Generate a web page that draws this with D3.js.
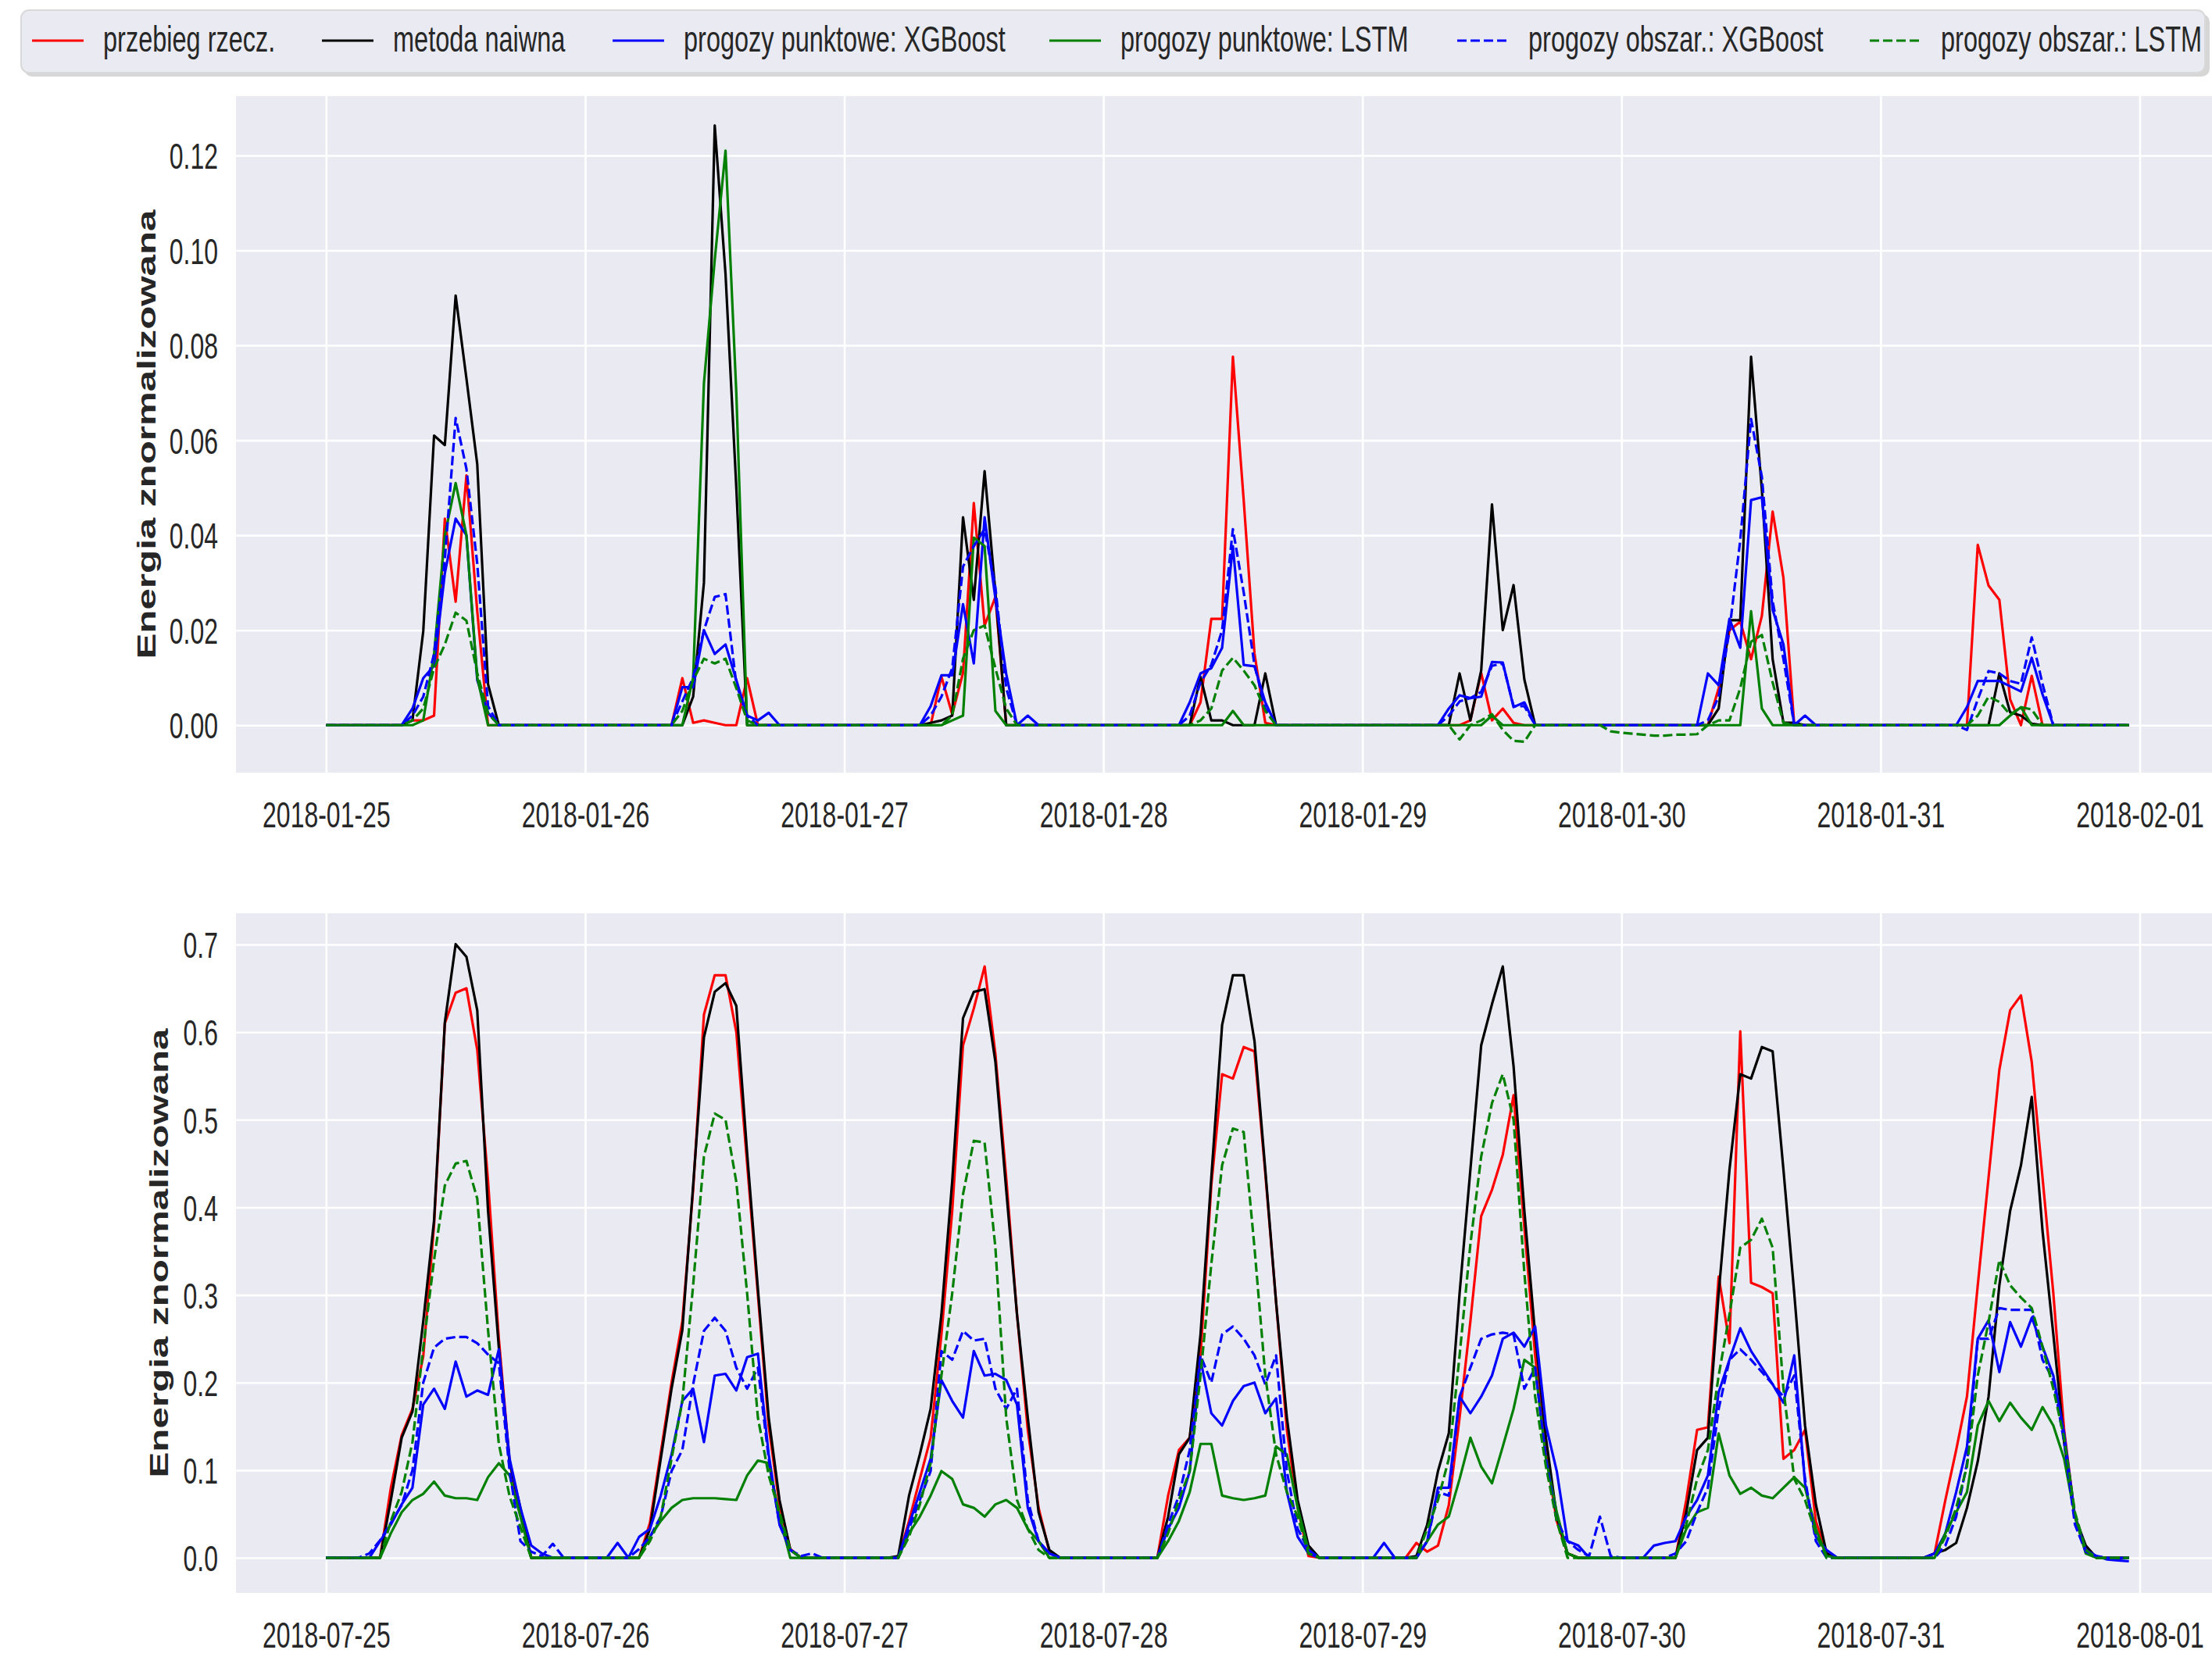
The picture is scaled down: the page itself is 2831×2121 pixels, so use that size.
<!DOCTYPE html>
<html>
<head>
<meta charset="utf-8">
<script src="https://cdn.jsdelivr.net/npm/d3@7"></script>
<style>
  body { margin: 0; background: #fff; }
</style>
</head>
<body>
<svg width="2831" height="2121"></svg>
<script>
// legend / series
const seriesNames = ['przebieg rzecz.', 'metoda naiwna', 'progozy punktowe: XGBoost',
  'progozy punktowe: LSTM', 'progozy obszar.: XGBoost', 'progozy obszar.: LSTM'];
const seriesColors = ['#ff0000', '#000000', '#0000ff', '#008000', '#0000ff', '#008000'];
const seriesDashed = [false, false, false, false, true, true];

// winter week, hourly values from 06:00 to 18:00 of every day (night = 0)
const winterStart = Date.UTC(2018, 0, 25);
const winterFirstHour = 6;
const winterReal = [
  [0, 0, 0.001, 0.001, 0.002, 0.0435, 0.026, 0.0526, 0.024, 0, 0, 0, 0],
  [0, 0, 0, 0.0099, 0.0005, 0.001, 0.0005, 0, 0, 0.0099, 0, 0, 0],
  [0, 0, 0, 0.0102, 0.0023, 0.011, 0.0468, 0.021, 0.027, 0, 0, 0, 0],
  [0, 0, 0, 0.0048, 0.0224, 0.0224, 0.0776, 0.0474, 0.0151, 0.0005, 0, 0, 0],
  [0, 0, 0, 0, 0.001, 0.011, 0.001, 0.0035, 0.0005, 0, 0, 0, 0],
  [0, 0, 0, 0.0078, 0.02, 0.0218, 0.0139, 0.023, 0.045, 0.031, 0, 0, 0],
  [0, 0, 0, 0.038, 0.0294, 0.0264, 0.0054, 0, 0.0104, 0, 0, 0, 0]
];
const winterNaive = [
  [0, 0, 0.001, 0.0198, 0.061, 0.059, 0.0905, 0.073, 0.055, 0.0086, 0, 0, 0],
  [0, 0, 0, 0, 0.006, 0.03, 0.1263, 0.095, 0.05, 0, 0, 0, 0],
  [0, 0, 0.0005, 0.001, 0.002, 0.0438, 0.0264, 0.0535, 0.028, 0, 0, 0, 0],
  [0, 0, 0, 0.0102, 0.001, 0.001, 0, 0, 0, 0.0109, 0, 0, 0],
  [0, 0, 0, 0.0109, 0.001, 0.0115, 0.0465, 0.02, 0.0295, 0.0096, 0, 0, 0],
  [0, 0, 0, 0.0035, 0.0221, 0.0221, 0.0776, 0.0496, 0.0139, 0.0005, 0.0005, 0, 0],
  [0, 0, 0, 0, 0, 0.0109, 0.0027, 0.002, 0.0003, 0, 0, 0, 0]
];
const winterPointXgb = [
  [0, 0, 0.0035, 0.0099, 0.0125, 0.032, 0.0435, 0.04, 0.0095, 0.0026, 0, 0, 0],
  [0, 0, 0, 0.008, 0.008, 0.02, 0.015, 0.017, 0.0095, 0.002, 0.001, 0.0026, 0],
  [0, 0, 0.004, 0.0105, 0.0105, 0.0255, 0.013, 0.0438, 0.0267, 0.0108, 0, 0.002, 0],
  [0, 0, 0.0048, 0.0109, 0.012, 0.0163, 0.0377, 0.0127, 0.0124, 0.0048, 0, 0, 0],
  [0, 0, 0.0035, 0.0063, 0.0057, 0.006, 0.0133, 0.0132, 0.0038, 0.0048, 0, 0, 0],
  [0, 0, 0.0109, 0.0084, 0.0224, 0.0163, 0.0474, 0.048, 0.0243, 0.017, 0, 0.002, 0],
  [0, 0, 0.0038, 0.0093, 0.0093, 0.0093, 0.0082, 0.0071, 0.0142, 0.0065, 0, 0, 0]
];
const winterPointLstm = [
  [0, 0, 0, 0.001, 0.015, 0.04, 0.051, 0.04, 0.01, 0, 0, 0, 0],
  [0, 0, 0, 0, 0.01, 0.072, 0.098, 0.121, 0.07, 0, 0, 0, 0],
  [0, 0, 0, 0, 0.001, 0.002, 0.0395, 0.0377, 0.003, 0, 0, 0, 0],
  [0, 0, 0, 0, 0, 0, 0.003, 0, 0, 0, 0, 0, 0],
  [0, 0, 0, 0, 0, 0, 0.002, 0, 0, 0, 0, 0, 0],
  [0, 0, 0, 0, 0, 0, 0.024, 0.0035, 0, 0, 0, 0, 0],
  [0, 0, 0, 0, 0, 0, 0.002, 0.0038, 0, 0, 0, 0, 0]
];
const winterAreaXgb = [
  [0, 0, 0.002, 0.006, 0.015, 0.035, 0.0647, 0.054, 0.034, 0.004, 0, 0, 0],
  [0, 0, 0, 0.005, 0.01, 0.02, 0.027, 0.0276, 0.0086, 0.002, 0, 0, 0],
  [0, 0, 0.002, 0.006, 0.012, 0.0334, 0.0377, 0.0413, 0.029, 0.0078, 0, 0, 0],
  [0, 0, 0.002, 0.009, 0.0127, 0.02, 0.0413, 0.028, 0.0127, 0.0035, 0, 0, 0],
  [0, 0, 0.002, 0.005, 0.0057, 0.007, 0.0125, 0.013, 0.004, 0.004, 0, 0, 0],
  [0, 0, 0.001, 0.006, 0.02, 0.039, 0.0645, 0.0523, 0.0261, 0.0139, 0, 0, 0],
  [0, 0, -0.001, 0.0054, 0.0114, 0.0109, 0.0093, 0.0087, 0.0185, 0.0087, 0, 0, 0]
];
const winterAreaLstm = [
  [0, 0, 0.001, 0.0035, 0.012, 0.017, 0.0237, 0.022, 0.011, 0.0025, 0, 0, 0],
  [0, 0, 0, 0.003, 0.0095, 0.014, 0.013, 0.014, 0.0078, 0.001, 0, 0, 0],
  [0, 0, 0, 0, 0.002, 0.014, 0.02, 0.021, 0.012, 0.0035, 0, 0, 0],
  [0, 0, 0, 0.001, 0.0035, 0.0115, 0.0142, 0.0115, 0.0084, 0.003, 0, 0, 0],
  [0, 0, 0, -0.003, 0, 0.001, 0.0023, -0.001, -0.0033, -0.0035, 0, 0, 0],
  [-0.002, -0.0019, 0, 0.001, 0.001, 0.0078, 0.0176, 0.019, 0.009, 0.0005, 0, 0, 0],
  [0, 0, 0, 0.002, 0.006, 0.0049, 0.0022, 0.0038, 0.0033, 0, 0, 0, 0]
];
// [day, hour, value] outside the daytime window
const winterAreaLstmNight = [[4, 23, -0.0013], [5, 0, -0.0016], [5, 1, -0.0018], [5, 2, -0.002],
  [5, 3, -0.0022], [5, 4, -0.0022], [5, 5, -0.002]];
const winterYTicks = [0, 0.02, 0.04, 0.06, 0.08, 0.10, 0.12];
const winterYDomain = [-0.0100, 0.1325];

// summer week, hourly values from 02:00 to 23:00 of every day
const summerStart = Date.UTC(2018, 6, 25);
const summerFirstHour = 2;
const summerReal = [
  [0, 0, 0, 0, 0.08, 0.14, 0.17, 0.23, 0.38, 0.61, 0.645, 0.65, 0.58, 0.43, 0.25, 0.11, 0.05, 0, 0, 0, 0, 0],
  [0, 0, 0, 0, 0.04, 0.12, 0.2, 0.27, 0.42, 0.62, 0.665, 0.665, 0.6, 0.45, 0.3, 0.15, 0.06, 0.01, 0, 0, 0, 0],
  [0, 0, 0, 0, 0.042, 0.09, 0.137, 0.255, 0.396, 0.585, 0.627, 0.675, 0.575, 0.434, 0.278, 0.146, 0.057, 0.007, 0, 0, 0, 0],
  [0, 0, 0, 0, 0.071, 0.123, 0.137, 0.231, 0.425, 0.552, 0.547, 0.583, 0.578, 0.439, 0.292, 0.146, 0.057, 0.002, 0, 0, 0, 0],
  [0, 0, 0, 0.017, 0.007, 0.014, 0.06, 0.16, 0.27, 0.39, 0.42, 0.46, 0.528, 0.377, 0.231, 0.118, 0.042, 0.005, 0, 0, 0, 0],
  [0, 0, 0, 0, 0.066, 0.146, 0.149, 0.321, 0.245, 0.601, 0.314, 0.309, 0.302, 0.113, 0.123, 0.146, 0.042, 0.005, 0, 0, 0, 0],
  [0, 0, 0, 0.005, 0.066, 0.123, 0.184, 0.311, 0.434, 0.557, 0.625, 0.642, 0.566, 0.434, 0.302, 0.146, 0.047, 0.009, 0, 0, 0, 0]
];
const summerNaive = [
  [0, 0, 0, 0, 0.066, 0.137, 0.167, 0.27, 0.385, 0.611, 0.7005, 0.686, 0.625, 0.396, 0.24, 0.108, 0.057, 0, 0, 0, 0, 0],
  [0, 0, 0, 0, 0.033, 0.113, 0.193, 0.26, 0.425, 0.594, 0.646, 0.656, 0.63, 0.462, 0.307, 0.16, 0.066, 0.009, 0, 0, 0, 0],
  [0, 0, 0, 0.002, 0.071, 0.118, 0.17, 0.278, 0.43, 0.616, 0.646, 0.649, 0.566, 0.42, 0.278, 0.16, 0.052, 0.009, 0, 0, 0, 0],
  [0, 0, 0, 0, 0.047, 0.118, 0.137, 0.255, 0.434, 0.608, 0.665, 0.665, 0.59, 0.443, 0.292, 0.16, 0.066, 0.014, 0, 0, 0, 0],
  [0, 0, 0, 0.002, 0.038, 0.099, 0.142, 0.302, 0.443, 0.585, 0.632, 0.675, 0.561, 0.396, 0.255, 0.137, 0.047, 0.005, 0, 0, 0, 0],
  [0, 0, 0, 0, 0.052, 0.123, 0.137, 0.302, 0.443, 0.552, 0.547, 0.583, 0.578, 0.443, 0.302, 0.151, 0.061, 0.005, 0, 0, 0, 0],
  [0, 0, 0, 0.005, 0.009, 0.017, 0.057, 0.11, 0.184, 0.311, 0.396, 0.448, 0.526, 0.373, 0.255, 0.132, 0.047, 0.014, 0, 0, 0, 0]
];
const summerPointXgb = [
  [0, 0, 0, 0.019, 0.038, 0.061, 0.08, 0.175, 0.193, 0.17, 0.224, 0.184, 0.191, 0.186, 0.238, 0.113, 0.057, 0.014, 0.005, 0, 0, 0],
  [0, 0.017, 0, 0.024, 0.033, 0.071, 0.118, 0.179, 0.193, 0.132, 0.208, 0.21, 0.191, 0.229, 0.233, 0.118, 0.038, 0.009, 0, 0, 0, 0],
  [0, 0, 0, 0, 0.038, 0.075, 0.113, 0.203, 0.179, 0.16, 0.236, 0.208, 0.21, 0.203, 0.175, 0.057, 0.019, 0.005, 0, 0, 0, 0],
  [0, 0, 0, 0, 0.033, 0.057, 0.099, 0.226, 0.165, 0.151, 0.179, 0.196, 0.2, 0.165, 0.182, 0.075, 0.024, 0.005, 0, 0, 0, 0],
  [0.017, 0, 0, 0, 0.019, 0.08, 0.08, 0.184, 0.165, 0.184, 0.208, 0.25, 0.257, 0.241, 0.264, 0.151, 0.099, 0.019, 0.014, 0, 0, 0],
  [0, 0.014, 0.017, 0.019, 0.047, 0.066, 0.094, 0.189, 0.226, 0.262, 0.236, 0.217, 0.198, 0.177, 0.231, 0.085, 0.024, 0.009, 0, 0, 0, 0],
  [0, 0, 0, 0.005, 0.028, 0.075, 0.127, 0.25, 0.271, 0.212, 0.269, 0.241, 0.274, 0.241, 0.208, 0.142, 0.047, 0.009, 0.002, -0.002, -0.003, -0.004]
];
const summerPointLstm = [
  [0, 0, 0, 0, 0.028, 0.052, 0.066, 0.073, 0.087, 0.071, 0.068, 0.068, 0.066, 0.092, 0.108, 0.094, 0.047, 0, 0, 0, 0, 0],
  [0, 0, 0, 0, 0.024, 0.042, 0.057, 0.066, 0.068, 0.068, 0.068, 0.067, 0.066, 0.094, 0.111, 0.108, 0.047, 0, 0, 0, 0, 0],
  [0, 0, 0, 0, 0.028, 0.047, 0.071, 0.099, 0.09, 0.061, 0.057, 0.047, 0.061, 0.066, 0.057, 0.033, 0.019, 0, 0, 0, 0, 0],
  [0, 0, 0, 0, 0.019, 0.042, 0.075, 0.13, 0.13, 0.071, 0.068, 0.066, 0.068, 0.071, 0.127, 0.118, 0.057, 0.009, 0, 0, 0, 0],
  [0, 0, 0, 0, 0.019, 0.038, 0.047, 0.09, 0.137, 0.104, 0.085, 0.127, 0.17, 0.226, 0.217, 0.113, 0.052, 0.005, 0, 0, 0, 0],
  [0, 0, 0, 0, 0.033, 0.052, 0.057, 0.142, 0.094, 0.073, 0.08, 0.071, 0.068, 0.08, 0.092, 0.08, 0.033, 0.002, 0, 0, 0, 0],
  [0, 0, 0, 0, 0.028, 0.052, 0.075, 0.151, 0.179, 0.156, 0.177, 0.16, 0.146, 0.172, 0.151, 0.113, 0.047, 0.005, 0, 0, 0, 0]
];
const summerAreaXgb = [
  [0, 0, 0.005, 0.02, 0.04, 0.06, 0.1, 0.2, 0.24, 0.25, 0.252, 0.252, 0.245, 0.232, 0.222, 0.099, 0.019, 0.007, 0.002, 0.016, 0, 0],
  [0, 0, 0, 0.01, 0.024, 0.047, 0.099, 0.123, 0.198, 0.259, 0.274, 0.259, 0.217, 0.193, 0.217, 0.113, 0.038, 0.009, 0.002, 0.005, 0, 0],
  [0, 0, 0, 0, 0.033, 0.066, 0.099, 0.236, 0.226, 0.259, 0.248, 0.25, 0.193, 0.17, 0.193, 0.066, 0.019, 0.005, 0, 0, 0, 0],
  [0, 0, 0, 0, 0.038, 0.071, 0.123, 0.231, 0.2, 0.255, 0.264, 0.25, 0.231, 0.198, 0.231, 0.099, 0.033, 0.009, 0, 0, 0, 0],
  [0, 0, 0, 0, 0.019, 0.075, 0.071, 0.184, 0.217, 0.25, 0.255, 0.257, 0.255, 0.193, 0.217, 0.113, 0.042, 0.019, 0.009, 0.002, 0.047, 0.002],
  [0, 0, 0, 0.005, 0.019, 0.052, 0.08, 0.17, 0.226, 0.238, 0.226, 0.212, 0.198, 0.184, 0.208, 0.09, 0.019, 0, 0, 0, 0, 0],
  [0, 0, 0, 0, 0.014, 0.047, 0.108, 0.25, 0.25, 0.285, 0.283, 0.283, 0.283, 0.226, 0.203, 0.132, 0.038, 0.007, 0.002, 0, 0, 0]
];
const summerAreaLstm = [
  [0, 0, 0, 0, 0.042, 0.075, 0.132, 0.24, 0.34, 0.425, 0.45, 0.453, 0.41, 0.26, 0.13, 0.07, 0.035, 0, 0, 0, 0, 0],
  [0, 0, 0, 0, 0.019, 0.047, 0.113, 0.179, 0.311, 0.458, 0.507, 0.5, 0.429, 0.302, 0.16, 0.094, 0.052, 0.009, 0, 0, 0, 0],
  [0, 0, 0, 0, 0.024, 0.061, 0.108, 0.208, 0.302, 0.415, 0.476, 0.474, 0.354, 0.16, 0.066, 0.033, 0.009, 0, 0, 0, 0, 0],
  [0, 0, 0, 0, 0.028, 0.066, 0.099, 0.208, 0.335, 0.448, 0.49, 0.486, 0.354, 0.208, 0.118, 0.075, 0.047, 0.005, 0, 0, 0, 0],
  [0, 0, 0, 0, 0.033, 0.066, 0.113, 0.231, 0.358, 0.458, 0.519, 0.552, 0.5, 0.325, 0.184, 0.104, 0.042, 0, 0, 0, 0, 0],
  [0, 0, 0, 0, 0.038, 0.09, 0.123, 0.208, 0.278, 0.354, 0.363, 0.387, 0.354, 0.193, 0.09, 0.066, 0.028, 0, 0, 0, 0, 0],
  [0, 0, 0, 0, 0.024, 0.057, 0.104, 0.208, 0.269, 0.34, 0.311, 0.297, 0.285, 0.241, 0.193, 0.137, 0.052, 0.009, 0, 0, 0, 0]
];
const summerYTicks = [0, 0.1, 0.2, 0.3, 0.4, 0.5, 0.6, 0.7];
const summerYDomain = [-0.0401, 0.7357];

const yLabel = 'Energia znormalizowana';

// layout
const fontFamily = '"Liberation Sans", Arial, Helvetica, sans-serif';
const textColor = '#262626';
const stretch = 1.45; // the picture is stretched vertically, so is its text
const plotLeft = 302;
const plotRight = 2840;

const svg = d3.select('svg');

const hourly = (days, firstHour, extra = []) => {
  const values = new Array(days.length * 24).fill(0);
  days.forEach((day, d) => day.forEach((v, i) => { values[d * 24 + firstHour + i] = v; }));
  extra.forEach(([d, h, v]) => { values[d * 24 + h] = v; });
  return values;
};

const drawPanel = (p) => {
  const series = p.series.map((days, k) => hourly(days, p.firstHour, p.extra[k] || []));
  const n = series[0].length;
  const dates = d3.range(n).map(i => d3.utcHour.offset(new Date(p.start), i));
  const pad = (dates[n - 1] - dates[0]) * 0.05;
  const x = d3.scaleUtc()
    .domain([new Date(+dates[0] - pad), new Date(+dates[n - 1] + pad)])
    .range([plotLeft, plotRight]);
  const y = d3.scaleLinear().domain(p.yDomain).range([p.bottom, p.top]);

  const g = svg.append('g');
  g.append('rect')
    .attr('x', plotLeft).attr('y', p.top)
    .attr('width', plotRight - plotLeft).attr('height', p.bottom - p.top)
    .attr('fill', '#eaeaf2');

  const dayTicks = d3.utcDay.range(d3.utcDay.ceil(x.domain()[0]), x.domain()[1]);
  const xAxis = g.append('g')
    .attr('transform', `translate(0, ${p.bottom})`)
    .call(d3.axisBottom(x).tickValues(dayTicks).tickFormat(d3.utcFormat('%Y-%m-%d'))
      .tickSize(-(p.bottom - p.top)));
  const yAxis = g.append('g')
    .attr('transform', `translate(${plotLeft}, 0)`)
    .call(d3.axisLeft(y).tickValues(p.yTicks).tickFormat(d3.format(p.tickFormat))
      .tickSize(-(plotRight - plotLeft)));

  [xAxis, yAxis].forEach(ax => {
    ax.select('.domain').remove();
    ax.selectAll('line').attr('stroke', '#ffffff').attr('stroke-width', 2.6);
    ax.attr('font-family', fontFamily).attr('font-size', 32);
    ax.selectAll('text').attr('fill', textColor);
  });
  xAxis.selectAll('text')
    .attr('y', null).attr('dy', null)
    .attr('transform', `translate(0, 70) scale(1, ${stretch})`);
  yAxis.selectAll('text')
    .attr('x', null).attr('dy', '0.36em')
    .attr('transform', `translate(-23, 0) scale(1, ${stretch})`);

  g.append('text')
    .attr('transform', `translate(${p.labelX}, ${(p.top + p.bottom) / 2}) scale(1, ${stretch}) rotate(-90)`)
    .attr('text-anchor', 'middle')
    .attr('font-family', fontFamily)
    .attr('font-weight', 'bold')
    .attr('font-size', 34)
    .attr('fill', textColor)
    .text(yLabel);

  const line = d3.line()
    .x((d, i) => x(dates[i]))
    .y(d => y(d));

  g.append('g')
    .selectAll('path')
    .data(series)
    .enter().append('path')
    .attr('d', d => line(d))
    .attr('fill', 'none')
    .attr('stroke', (d, k) => seriesColors[k])
    .attr('stroke-width', 3.2)
    .attr('stroke-linejoin', 'round')
    .attr('stroke-dasharray', (d, k) => seriesDashed[k] ? '12,5' : null);
};

drawPanel({
  start: winterStart, firstHour: winterFirstHour,
  series: [winterReal, winterNaive, winterPointXgb, winterPointLstm, winterAreaXgb, winterAreaLstm],
  extra: { 5: winterAreaLstmNight },
  yDomain: winterYDomain, yTicks: winterYTicks, tickFormat: '.2f',
  top: 123, bottom: 989, labelX: 199
});
drawPanel({
  start: summerStart, firstHour: summerFirstHour,
  series: [summerReal, summerNaive, summerPointXgb, summerPointLstm, summerAreaXgb, summerAreaLstm],
  extra: {},
  yDomain: summerYDomain, yTicks: summerYTicks, tickFormat: '.1f',
  top: 1169, bottom: 2039, labelX: 215
});

// legend
const legendX = [41, 412, 784, 1343, 1865, 2393];
const legend = svg.append('g');
legend.append('rect')
  .attr('x', 31).attr('y', 18).attr('width', 2797).attr('height', 80).attr('rx', 10)
  .attr('fill', '#d6d6d6');
legend.append('rect')
  .attr('x', 27).attr('y', 13).attr('width', 2795).attr('height', 80).attr('rx', 10)
  .attr('fill', '#eaeaf2').attr('stroke', '#d9d9d9').attr('stroke-width', 2);

const entry = legend.selectAll('.entry')
  .data(seriesNames)
  .enter().append('g')
  .attr('class', 'entry')
  .attr('transform', (d, i) => `translate(${legendX[i]}, 0)`);
entry.append('line')
  .attr('x1', 0).attr('x2', 66).attr('y1', 52).attr('y2', 52)
  .attr('stroke', (d, i) => seriesColors[i])
  .attr('stroke-width', 3.2)
  .attr('stroke-dasharray', (d, i) => seriesDashed[i] ? '12,5' : null);
entry.append('text')
  .attr('transform', `translate(91, 66) scale(1, 1.42)`)
  .attr('font-family', fontFamily)
  .attr('font-size', 32.5)
  .attr('fill', textColor)
  .text(d => d);
</script>
</body>
</html>
